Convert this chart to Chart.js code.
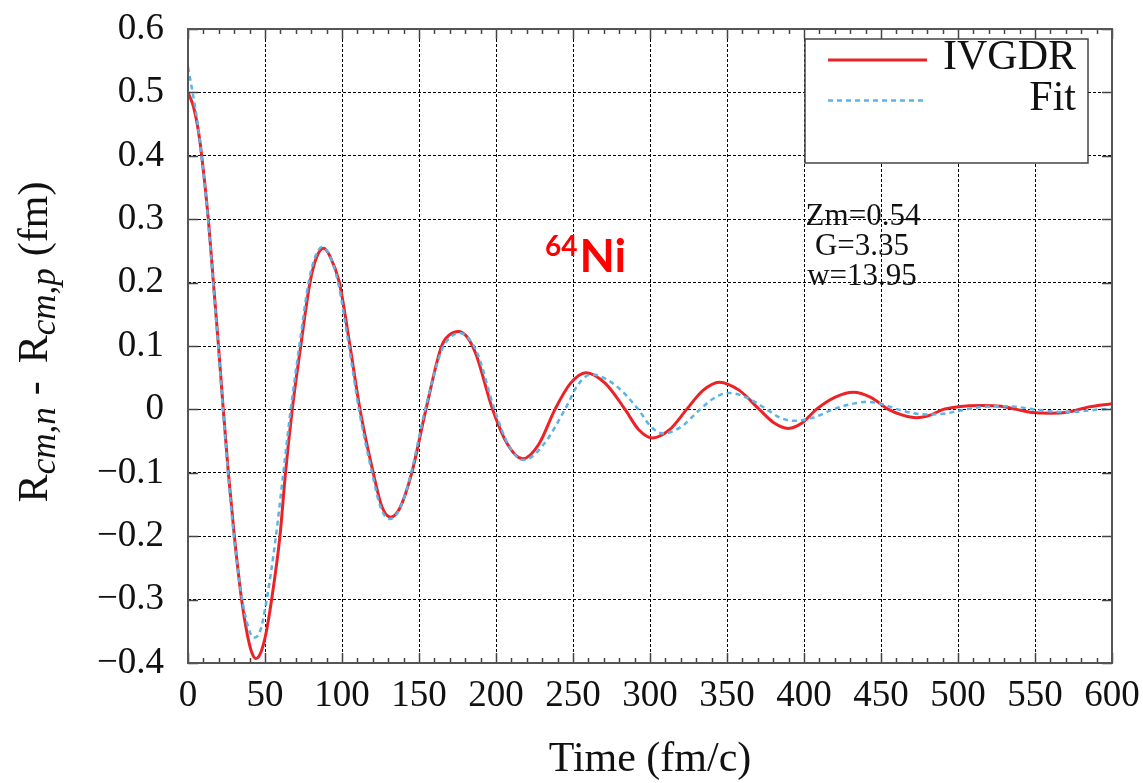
<!DOCTYPE html>
<html>
<head>
<meta charset="utf-8">
<script src="https://cdn.jsdelivr.net/npm/chart.js@4.4.1/dist/chart.umd.min.js"></script>
<style>
  html, body { margin: 0; padding: 0; background: #fff; }
  #wrap { width: 1143px; height: 783px; }
</style>
</head>
<body>
<div id="wrap"><canvas id="myChart" width="1143" height="783"></canvas></div>
<script>
// IVGDR curve (time in fm/c, value in fm)
var ivgdrTime = [
  0, 3.5, 6.7, 8.9, 13.2, 16.5, 19.8, 22.9, 26.2, 30.1,
  34.8, 38.5, 41.5, 44, 47, 50.5, 54.3, 59.7, 63.3, 67.7,
  73.2, 79.2, 83.5, 88, 92.5, 98.3, 105.2, 111.7, 120.3, 126,
  131.6, 137.5, 145.2, 154.5, 164.7, 170, 175.5, 181, 187, 197.8,
  207.5, 217.3, 227.8, 238.3, 248.3, 258.4, 271, 283.8, 292.7, 301.7,
  312.7, 323.8, 334.4, 345, 358, 371, 380.4, 389.8, 398.9, 408,
  420, 432, 443.4, 454.8, 464, 473, 482, 490.5, 500, 515,
  528, 538, 548, 560, 572, 585, 600
];
var ivgdrValue = [
  0.500, 0.478, 0.440, 0.400, 0.300, 0.200, 0.100, 0.000, -0.100, -0.200,
  -0.300, -0.355, -0.384, -0.393, -0.385, -0.355, -0.300, -0.200, -0.100, 0.000,
  0.100, 0.200, 0.240, 0.254, 0.240, 0.200, 0.100, 0.000, -0.100, -0.154,
  -0.170, -0.156, -0.101, 0.000, 0.100, 0.118, 0.123, 0.115, 0.087, 0.000,
  -0.055, -0.078, -0.055, 0.000, 0.041, 0.058, 0.041, 0.000, -0.032, -0.045,
  -0.032, 0.000, 0.030, 0.043, 0.030, 0.000, -0.021, -0.030, -0.021, 0.000,
  0.019, 0.027, 0.019, 0.000, -0.009, -0.013, -0.009, 0.000, 0.004, 0.006,
  0.005, 0.000, -0.005, -0.006, -0.004, 0.004, 0.009
];

// Fit curve
var fitTime = [
  0, 3, 6, 9, 13, 16.3, 19.6, 22.7, 26, 29.8,
  34.5, 38.5, 42.5, 46.5, 51.1, 57.1, 61.9, 66.7, 72.3, 78.3,
  82.5, 87, 91.5, 97.5, 104.5, 111, 119.5, 125, 131, 137,
  144.5, 154, 165, 171, 177, 183, 188.5, 199, 208.5, 218,
  231, 244.8, 253.5, 262, 277, 292.4, 300.5, 308.6, 320.5, 332.5,
  341.7, 350.9, 363.3, 375.8, 384.4, 393, 406, 419, 430, 441,
  451, 461, 471, 481, 493, 505, 516, 527, 538, 549,
  559, 569, 580, 592, 600
];
var fitValue = [
  0.540, 0.500, 0.455, 0.395, 0.300, 0.200, 0.100, 0.000, -0.100, -0.200,
  -0.290, -0.338, -0.360, -0.352, -0.300, -0.200, -0.100, 0.000, 0.100, 0.200,
  0.240, 0.256, 0.245, 0.200, 0.100, 0.000, -0.100, -0.154, -0.173, -0.159,
  -0.104, 0.000, 0.095, 0.115, 0.120, 0.110, 0.085, 0.000, -0.058, -0.080,
  -0.055, 0.000, 0.040, 0.055, 0.039, 0.000, -0.027, -0.038, -0.027, 0.000,
  0.018, 0.026, 0.018, 0.000, -0.013, -0.018, -0.013, 0.000, 0.008, 0.012,
  0.008, 0.000, -0.006, -0.008, -0.006, 0.000, 0.004, 0.005, 0.004, 0.000,
  -0.003, -0.004, -0.003, 0.000, 0.001
];

var seriesNames = ["IVGDR", "Fit"];
var fitParams = ["Zm=0.54", "G=3.35", "w=13.95"];
var xTicks = [0, 50, 100, 150, 200, 250, 300, 350, 400, 450, 500, 550, 600];
var yMin = -0.4, yMax = 0.6, yStep = 0.1;

var SERIF = "'Liberation Serif', 'Times New Roman', serif";
var RED = "#ec2226";
var BLUE = "#5cb4e6";

function pairs(xs, ys) {
  var out = [];
  for (var i = 0; i < xs.length; i++) out.push({x: xs[i], y: ys[i]});
  return out;
}

function fmtY(v) {
  var r = Math.round(v * 10) / 10;
  if (Math.abs(r) < 1e-9) return "0";
  var s = Math.abs(r).toFixed(1);
  return r < 0 ? "\u2212" + s : s;
}

// frame, inside ticks, legend box, annotations, y title
var decor = {
  id: "decor",
  afterDraw: function(chart) {
    var ctx = chart.ctx;
    var a = chart.chartArea;
    var xs = chart.scales.x, ys = chart.scales.y;
    ctx.save();

    // tick marks pointing inward
    ctx.strokeStyle = "#444";
    ctx.lineWidth = 1.5;
    ctx.beginPath();
    for (var t = 0; t <= 600; t += 10) {
      var px = Math.round(xs.getPixelForValue(t)) + 0.5;
      var len = (t % 50 === 0) ? 10 : 5;
      ctx.moveTo(px, a.bottom); ctx.lineTo(px, a.bottom - len);
      ctx.moveTo(px, a.top); ctx.lineTo(px, a.top + len);
    }
    for (var k = 0; k <= 10; k++) {
      var py = Math.round(ys.getPixelForValue(yMin + k * yStep)) + 0.5;
      ctx.moveTo(a.left, py); ctx.lineTo(a.left + 10, py);
      ctx.moveTo(a.right, py); ctx.lineTo(a.right - 10, py);
    }
    ctx.stroke();

    // frame
    ctx.strokeStyle = "#555";
    ctx.lineWidth = 2;
    ctx.strokeRect(a.left, a.top, a.right - a.left, a.bottom - a.top);

    // legend box
    var lx = 805, ly = 39, lw = 283, lh = 124;
    ctx.fillStyle = "#fff";
    ctx.fillRect(lx, ly, lw, lh);
    ctx.strokeStyle = "#444";
    ctx.lineWidth = 1.5;
    ctx.strokeRect(lx, ly, lw, lh);

    var ds = chart.data.datasets;
    var rows = [60, 100.5];
    ctx.font = "42px " + SERIF;
    ctx.textAlign = "right";
    ctx.textBaseline = "alphabetic";
    for (var i = 0; i < ds.length; i++) {
      ctx.strokeStyle = ds[i].borderColor;
      ctx.lineWidth = ds[i].borderWidth;
      ctx.setLineDash(ds[i].borderDash || []);
      ctx.beginPath();
      ctx.moveTo(828, rows[i]); ctx.lineTo(927, rows[i]);
      ctx.stroke();
      ctx.setLineDash([]);
      ctx.fillStyle = "#111";
      ctx.fillText(ds[i].label, 1076, rows[i] + 9);
    }

    // fit parameters
    ctx.font = "31px " + SERIF;
    ctx.textAlign = "center";
    ctx.textBaseline = "middle";
    ctx.fillStyle = "#111";
    var centers = [863, 862, 862];
    for (var j = 0; j < fitParams.length; j++) {
      ctx.fillText(fitParams[j], centers[j], 217 + j * 30);
    }

    // nucleus label
    ctx.fillStyle = "#ff0000";
    ctx.textAlign = "left";
    ctx.textBaseline = "alphabetic";
    ctx.font = "bold 28px Lato, 'Open Sans', sans-serif";
    ctx.fillText("64", 545, 256);
    var w64 = ctx.measureText("64").width;
    ctx.font = "bold 46px Lato, 'Open Sans', sans-serif";
    ctx.fillText("Ni", 545 + w64 + 2, 272);

    // y axis title with subscripts, rotated
    var parts = [
      {t: "R", f: "42px " + SERIF, dy: 0, gap: 0},
      {t: "cm,n", f: "italic 35px " + SERIF, dy: 8, gap: 12},
      {t: "-", f: "42px " + SERIF, dy: 0, gap: 18},
      {t: "R", f: "42px " + SERIF, dy: 0, gap: 0},
      {t: "cm,p", f: "italic 35px " + SERIF, dy: 8, gap: 12},
      {t: "(fm)", f: "42px " + SERIF, dy: 0, gap: 0}
    ];
    var total = 0;
    parts.forEach(function(p) { ctx.font = p.f; p.w = ctx.measureText(p.t).width; total += p.w + p.gap; });
    ctx.translate(47, 342);
    ctx.rotate(-Math.PI / 2);
    ctx.fillStyle = "#111";
    ctx.textAlign = "left";
    ctx.textBaseline = "alphabetic";
    var cx = -total / 2;
    parts.forEach(function(p) {
      ctx.font = p.f;
      ctx.fillText(p.t, cx, p.dy);
      cx += p.w + p.gap;
    });
    ctx.restore();
  }
};

var ctx = document.getElementById("myChart").getContext("2d");
var chart = new Chart(ctx, {
  type: "line",
  data: {
    datasets: [
      {
        label: seriesNames[0],
        data: pairs(ivgdrTime, ivgdrValue),
        borderColor: RED,
        borderWidth: 3,
        pointRadius: 0,
        cubicInterpolationMode: "monotone",
        order: 1
      },
      {
        label: seriesNames[1],
        data: pairs(fitTime, fitValue),
        borderColor: BLUE,
        borderWidth: 2.5,
        borderDash: [5, 4],
        pointRadius: 0,
        cubicInterpolationMode: "monotone",
        order: 0
      }
    ]
  },
  options: {
    responsive: false,
    animation: false,
    devicePixelRatio: 1,
    layout: { padding: { top: 29, right: 31, left: 0, bottom: 0 } },
    plugins: {
      legend: { display: false },
      tooltip: { enabled: false }
    },
    scales: {
      x: {
        type: "linear",
        min: 0, max: 600,
        afterBuildTicks: function(scale) {
          scale.ticks = xTicks.map(function(v) { return {value: v}; });
        },
        afterFit: function(scale) {
          scale.height = 120;
          scale.paddingLeft = 0; scale.paddingRight = 0;
        },
        grid: { color: "#000", lineWidth: 1, drawTicks: false },
        border: { display: false, dash: [3, 2] },
        ticks: {
          padding: 11,
          color: "#111",
          font: { family: SERIF, size: 37 },
          maxRotation: 0,
          autoSkip: false
        },
        title: {
          display: true,
          text: "Time (fm/c)",
          color: "#111",
          font: { family: SERIF, size: 42, lineHeight: 1.1 },
          padding: { top: 0, bottom: 0 }
        }
      },
      y: {
        type: "linear",
        min: yMin, max: yMax,
        afterFit: function(scale) {
          scale.width = 188;
          scale.paddingTop = 0; scale.paddingBottom = 0;
        },
        grid: { color: "#000", lineWidth: 1, drawTicks: false },
        border: { display: false, dash: [3, 2] },
        ticks: {
          stepSize: yStep,
          padding: 24,
          color: "#111",
          font: { family: SERIF, size: 37 },
          callback: function(v) { return fmtY(v); }
        },
        title: { display: false }
      }
    }
  },
  plugins: [decor]
});
</script>
</body>
</html>
